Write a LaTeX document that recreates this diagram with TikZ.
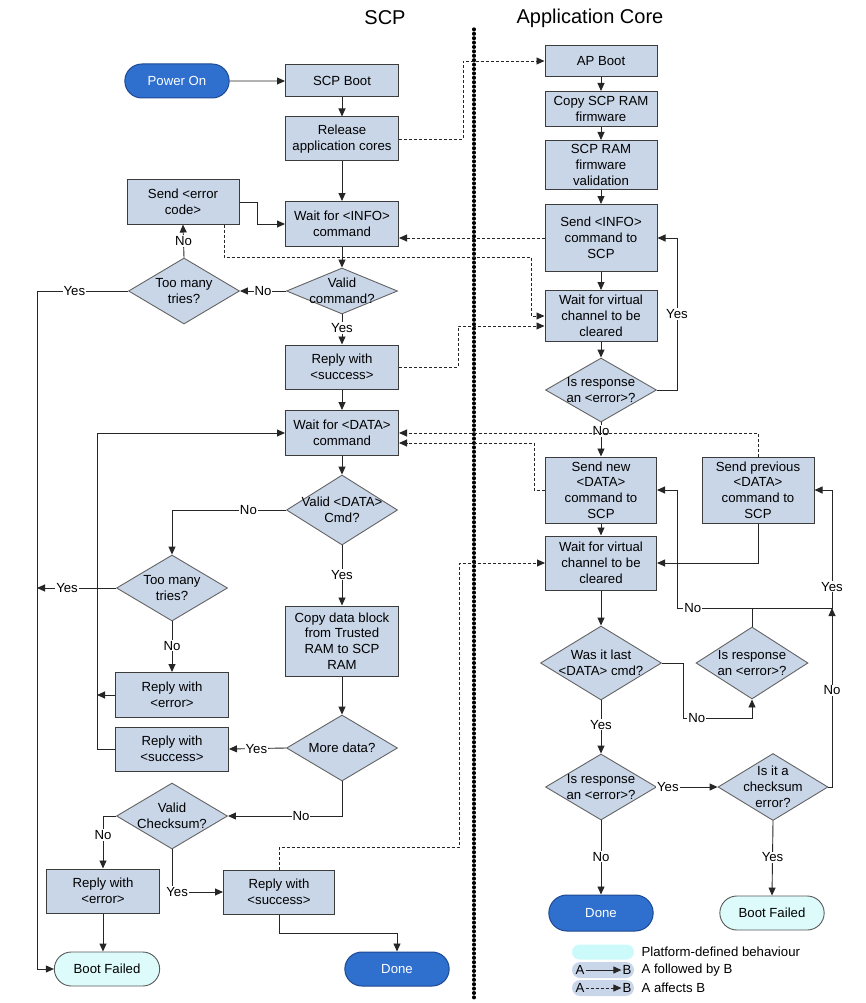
\documentclass[tikz,border=0pt]{standalone}
\usepackage{fontspec}
\setmainfont{Liberation Sans}
\usetikzlibrary{shapes.geometric,shapes.misc,arrows.meta,calc}
\definecolor{boxfill}{HTML}{C9D6E8}
\definecolor{boxline}{HTML}{3C3C3C}
\definecolor{termblue}{HTML}{2F6FCE}
\definecolor{termline}{HTML}{1E4A92}
\definecolor{cyanfill}{HTML}{DDFBFB}
\definecolor{legcyan}{HTML}{CCFAFA}
\definecolor{legblue}{HTML}{C9D6EA}
\begin{document}
\begin{tikzpicture}[x=1pt,y=-1pt,
  every node/.style={font=\fontsize{13.2}{15.8}\selectfont},
  box/.style={draw=boxline, fill=boxfill, line width=1pt, align=center, inner sep=0.5pt, minimum width=113pt},
  dia/.style={diamond, draw=boxline!80, fill=boxfill, line width=0.9pt, inner sep=0pt, minimum width=111pt, minimum height=66pt},
  term/.style={rounded rectangle, draw=termline, fill=termblue, text=white, line width=1pt, minimum width=111pt, minimum height=34pt},
  termc/.style={rounded rectangle, draw=gray!70!black, fill=cyanfill, line width=0.9pt, minimum width=112pt, minimum height=34pt},
  arr/.style={-{Triangle[length=8pt,width=7pt]}, line width=0.9pt, draw=black!85},
  ln/.style={line width=0.9pt, draw=black!85},
  dsh/.style={arr, dash pattern=on 3pt off 2pt},
  lbl/.style={fill=white, inner sep=1pt},
  title/.style={font=\fontsize{20}{24}\selectfont}
]
\useasboundingbox (0,0) rectangle (865,1003);

% titles and separator
\node[title] (tscp) at (385,18) {SCP};
\node[title] (tap) at (590,18) {Application Core};
\draw[line width=3.2pt, dash pattern=on 0.8pt off 3.6pt, line cap=round] (474,29) -- (474,1000);

% ---------------- SCP side ----------------
\node[term] (power) at (177,81) {Power On};
\node[box, minimum height=32pt] (scpboot) at (342,81) {SCP Boot};
\node[box, minimum height=44pt] (release) at (342,139) {Release\\application cores};
\node[box, minimum height=45pt] (waitinfo) at (342,224) {Wait for <INFO>\\command};
\node[box, minimum width=112pt, minimum height=44pt] (senderr) at (183,202) {Send <error\\code>};
\node[dia, minimum height=46pt] (validcmd) at (342,291) {};
\node at (validcmd) [align=center] (validcmdt) {Valid\\command?};
\node[dia] (tries1) at (184,291) {};
\node at (tries1) [align=center] (tries1t) {Too many\\tries?};
\node[box, minimum height=44pt] (replysucc1) at (342,367) {Reply with\\<success>};
\node[box, minimum height=45pt] (waitdata) at (342,433) {Wait for <DATA>\\command};
\node[dia, minimum height=70pt] (validdata) at (342,510) {};
\node at (validdata) [align=center] (validdatat) {Valid <DATA>\\Cmd?};
\node[dia] (tries2) at (172,588) {};
\node at (tries2) [align=center] (tries2t) {Too many\\tries?};
\node[box, minimum height=70pt] (copy) at (342,641) {Copy data block\\from Trusted\\RAM to SCP\\RAM};
\node[box, minimum height=45pt] (replyerr1) at (172,695) {Reply with\\<error>};
\node[box, minimum height=44pt] (replysucc2) at (172,749) {Reply with\\<success>};
\node[dia] (moredata) at (342,748) {};
\node at (moredata) (moredatat) {More data?};
\node[dia] (checksum) at (172,816) {};
\node at (checksum) [align=center] (checksumt) {Valid\\Checksum?};
\node[box, minimum height=44pt] (replyerr2) at (103,891) {Reply with\\<error>};
\node[box, minimum width=111pt, minimum height=44pt] (replysucc3) at (279,892) {Reply with\\<success>};
\node[termc] (bootfail1) at (107,969) {Boot Failed};
\node[term] (done1) at (397,969) {Done};

\coordinate (lbus) at (37,291);
\coordinate (loop) at (97,433);

\draw[arr] (power) -- (scpboot);
\draw[arr] (scpboot) -- (release);
\draw[arr] (release) -- (waitinfo);
\draw[arr] (waitinfo) -- (validcmd);
\draw[arr] (validcmd.west) -- node[lbl,pos=0.5]{No} (tries1.east);
\draw[arr] (tries1.north) -- node[lbl,pos=0.5]{No} (senderr.south);
\draw[arr] (senderr.east) -- ++(18,0) |- (waitinfo.west);
\draw[arr] (tries1.west) -- node[lbl,pos=0.59]{Yes} (lbus) |- (bootfail1.west);
\draw[arr] (validcmd.south) -- node[lbl,pos=0.45]{Yes} (replysucc1.north);
\draw[arr] (replysucc1) -- (waitdata);
\draw[arr] (waitdata) -- (validdata);
\draw[arr] (validdata.west) -- node[lbl,pos=0.33]{No} (tries2.north |- validdata.west) -- (tries2.north);
\draw[arr] (tries2.west) -- node[lbl,pos=0.62]{Yes} (tries2.west -| lbus);
\draw[arr] (tries2.south) -- node[lbl,pos=0.48]{No} (replyerr1.north);
\draw[arr] (replyerr1.west) -- (replyerr1.west -| loop);
\draw[arr] (replysucc2.west) -| (loop) -- (waitdata.west);
\draw[arr] (validdata.south) -- node[lbl,pos=0.49]{Yes} (copy.north);
\draw[arr] (copy) -- (moredata);
\draw[arr] (moredata.west) -- node[lbl,pos=0.52]{Yes} (replysucc2.east);
\draw[arr] (moredata.south) |- node[lbl,pos=0.68]{No} (checksum.east);
\draw[arr] (checksum.west) -| node[lbl,pos=0.68]{No} (replyerr2.north);
\draw[arr] (checksum.south) |- node[lbl,pos=0.55]{Yes} (replysucc3.west);
\draw[arr] (replyerr2) -- (bootfail1.north -| replyerr2);
\draw[arr] (replysucc3.south) -- ++(0,19) -| (done1.north);

% ---------------- Application core side ----------------
\node[box, minimum width=112pt, minimum height=31pt] (apboot) at (601,61) {AP Boot};
\node[box, minimum width=112pt, minimum height=35pt] (copyfw) at (601,109) {Copy SCP RAM\\firmware};
\node[box, minimum width=112pt, minimum height=49pt] (valfw) at (601,165) {SCP RAM\\firmware\\validation};
\node[box, minimum width=112pt, minimum height=67pt] (sendinfo) at (601,238) {Send <INFO>\\command to\\SCP};
\node[box, minimum width=112pt, minimum height=51pt] (wait1) at (601,316) {Wait for virtual\\channel to be\\cleared};
\node[dia, minimum height=64pt] (resp1) at (601,390) {};
\node at (resp1) [align=center] (resp1t) {Is response\\an <error>?};
\node[box, minimum width=111pt, minimum height=66pt] (sendnew) at (601,490) {Send new\\<DATA>\\command to\\SCP};
\node[box, minimum width=112pt, minimum height=66pt] (sendprev) at (758,490) {Send previous\\<DATA>\\command to\\SCP};
\node[box, minimum width=111pt, minimum height=54pt] (wait2) at (601,563) {Wait for virtual\\channel to be\\cleared};
\node[dia, minimum width=121pt, minimum height=74pt] (last) at (601,663) {};
\node at (last) [align=center] (lastt) {Was it last\\<DATA> cmd?};
\node[dia, minimum width=112pt, minimum height=72pt] (resp2) at (752,663) {};
\node at (resp2) [align=center] (resp2t) {Is response\\an <error>?};
\node[dia] (resp3) at (601,787) {};
\node at (resp3) [align=center] (resp3t) {Is response\\an <error>?};
\node[dia, minimum width=110pt, minimum height=67pt] (cksum) at (773,787) {};
\node at (cksum) [align=center] (cksumt) {Is it a\\checksum\\error?};
\node[term, minimum height=36pt] (done2) at (601,913) {Done};
\node[termc, minimum width=111pt] (bootfail2) at (772,913) {Boot Failed};

\coordinate (r1) at (677,390);
\coordinate (jn) at (752,608);
\coordinate (jl) at (677,608);
\coordinate (jr) at (832,608);

\draw[arr] (apboot) -- (copyfw);
\draw[arr] (copyfw) -- (valfw);
\draw[arr] (valfw) -- (sendinfo);
\draw[arr] (sendinfo) -- (wait1);
\draw[arr] (wait1) -- (resp1);
\draw[arr] (resp1.east) -- (r1) |- node[lbl,pos=0.25]{Yes} (sendinfo.east);
\draw[arr] (resp1.south) -- node[lbl,pos=0.25]{No} (sendnew.north);
\draw[arr] (sendnew) -- (wait2);
\draw[arr] (sendprev.south) |- (wait2.east);
\draw[arr] (wait2) -- (last);
\draw[arr] (last.east) -- ++(21,0) -- ++(0,55) -| node[lbl,pos=0.1]{No} (resp2.south);
\draw[ln] (resp2.north) -- (jn);
\draw[arr] (jn) -- node[lbl,pos=0.79]{No} (jl) |- (sendnew.east);
\draw[arr] (jn) -- (jr) |- node[lbl,pos=0.09]{Yes} (sendprev.east);
\draw[arr] (cksum.east) -| node[lbl,pos=0.77]{No} (jr);
\draw[arr] (last.south) -- node[lbl,pos=0.46]{Yes} (resp3.north);
\draw[arr] (resp3.east) -- node[lbl,pos=0.18]{Yes} (cksum.west);
\draw[arr] (resp3.south) -- node[lbl,pos=0.49]{No} (done2.north);
\draw[arr] (cksum.south) -- node[lbl,pos=0.49]{Yes} (bootfail2.north);

% ---------------- dashed influences ----------------
\draw[dsh] (release.east) -- ++(64,0) |- (apboot.west);
\draw[dsh] (sendinfo.west) -- (sendinfo.west -| waitinfo.east);
\draw[dsh] ([xshift=41pt]senderr.south) |- (531,257) |- (wait1.west);
\draw[dsh] (replysucc1.east) -- ++(59,0) |- ([yshift=-10pt]wait1.west);
\draw[dsh] (sendprev.north) |- (waitdata.east);
\draw[dsh] (sendnew.west) -- ++(-11,0) |- ([yshift=-10pt]waitdata.east);
\draw[dsh] (replysucc3.north) |- (459,847) |- (wait2.west);

% ---------------- legend ----------------
\node[rounded rectangle, fill=legcyan, minimum width=62pt, minimum height=15pt, inner sep=0pt] (lgc) at (603,952) {};
\node[anchor=west] (lgt1) at (638,952) {Platform-defined behaviour};
\node[rounded rectangle, fill=legblue, minimum width=62pt, minimum height=16pt, inner sep=0pt] (lgb1) at (603,970) {};
\node[inner sep=1pt] (la1) at (580,970) {A};
\node[inner sep=1pt] (lb1) at (627,970) {B};
\draw[arr] (la1) -- (lb1);
\node[anchor=west] (lgt2) at (638,970) {A followed by B};
\node[rounded rectangle, fill=legblue, minimum width=62pt, minimum height=16pt, inner sep=0pt] (lgb2) at (603,988) {};
\node[inner sep=1pt] (la2) at (580,988) {A};
\node[inner sep=1pt] (lb2) at (627,988) {B};
\draw[dsh] (la2) -- (lb2);
\node[anchor=west] (lgt3) at (638,988) {A affects B};
\end{tikzpicture}
\end{document}
